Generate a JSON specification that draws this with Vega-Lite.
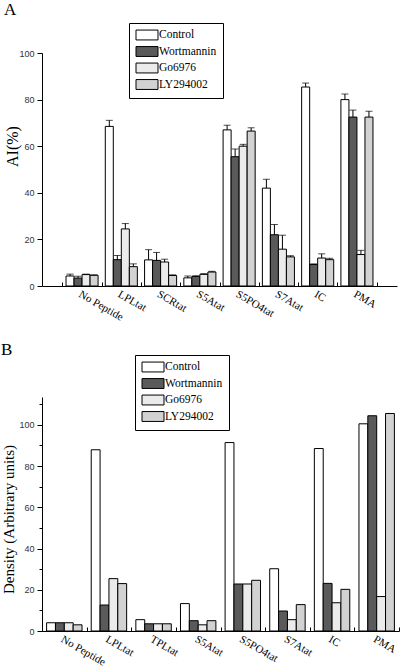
{
  "$schema": "https://vega.github.io/schema/vega-lite/v6.json",
  "padding": {"left": 1, "top": 0, "right": 0, "bottom": 0},
  "background": "white",
  "config": {
    "view": {"stroke": null},
    "axis": {"domainColor": "black", "tickColor": "black", "grid": false},
    "legend": {"strokeColor": "black", "fillColor": "white", "labelFont": "Liberation Serif", "labelColor": "black"}
  },
  "spacing": 17,
  "resolve": {
    "scale": {"x": "independent", "y": "independent", "fill": "independent", "xOffset": "independent"},
    "legend": {"fill": "independent"},
    "axis": {"x": "independent", "y": "independent"}
  },
  "vconcat": [
    {
      "title": {"text": "A", "anchor": "start", "font": "Liberation Serif", "fontSize": 17, "fontWeight": "normal", "offset": 4, "frame": "bounds"},
      "width": 355,
      "height": 233,
      "data": {
        "values": [
          {"peptide": "No Peptide", "treatment": "Control", "value": 4.3, "hi": 5.1},
          {"peptide": "No Peptide", "treatment": "Wortmannin", "value": 3.4, "hi": 4.2},
          {"peptide": "No Peptide", "treatment": "Go6976", "value": 4.9, "hi": 5.1},
          {"peptide": "No Peptide", "treatment": "LY294002", "value": 4.6, "hi": 4.8},
          {"peptide": "LPLtat", "treatment": "Control", "value": 68.5, "hi": 71.1},
          {"peptide": "LPLtat", "treatment": "Wortmannin", "value": 11.3, "hi": 13.1},
          {"peptide": "LPLtat", "treatment": "Go6976", "value": 24.5, "hi": 26.8},
          {"peptide": "LPLtat", "treatment": "LY294002", "value": 8.3, "hi": 9.5},
          {"peptide": "SCRtat", "treatment": "Control", "value": 11.2, "hi": 15.6},
          {"peptide": "SCRtat", "treatment": "Wortmannin", "value": 11.0, "hi": 14.4},
          {"peptide": "SCRtat", "treatment": "Go6976", "value": 10.3, "hi": 11.5},
          {"peptide": "SCRtat", "treatment": "LY294002", "value": 4.5, "hi": 4.8},
          {"peptide": "S5Atat", "treatment": "Control", "value": 3.5, "hi": 4.3},
          {"peptide": "S5Atat", "treatment": "Wortmannin", "value": 4.1, "hi": 4.4},
          {"peptide": "S5Atat", "treatment": "Go6976", "value": 5.0, "hi": 5.3},
          {"peptide": "S5Atat", "treatment": "LY294002", "value": 6.0, "hi": 6.3},
          {"peptide": "S5PO4tat", "treatment": "Control", "value": 67.0, "hi": 69.0},
          {"peptide": "S5PO4tat", "treatment": "Wortmannin", "value": 55.5, "hi": 58.8},
          {"peptide": "S5PO4tat", "treatment": "Go6976", "value": 60.0, "hi": 60.8},
          {"peptide": "S5PO4tat", "treatment": "LY294002", "value": 66.5, "hi": 67.9},
          {"peptide": "S7Atat", "treatment": "Control", "value": 42.0, "hi": 45.8},
          {"peptide": "S7Atat", "treatment": "Wortmannin", "value": 22.0, "hi": 26.4},
          {"peptide": "S7Atat", "treatment": "Go6976", "value": 15.8, "hi": 21.8},
          {"peptide": "S7Atat", "treatment": "LY294002", "value": 12.5, "hi": 13.0},
          {"peptide": "IC", "treatment": "Control", "value": 85.4, "hi": 87.1},
          {"peptide": "IC", "treatment": "Wortmannin", "value": 9.2, "hi": 9.5},
          {"peptide": "IC", "treatment": "Go6976", "value": 12.0, "hi": 13.8},
          {"peptide": "IC", "treatment": "LY294002", "value": 11.3, "hi": 11.9},
          {"peptide": "PMA", "treatment": "Control", "value": 80.0, "hi": 82.4},
          {"peptide": "PMA", "treatment": "Wortmannin", "value": 72.5, "hi": 75.5},
          {"peptide": "PMA", "treatment": "Go6976", "value": 13.5, "hi": 15.3},
          {"peptide": "PMA", "treatment": "LY294002", "value": 72.5, "hi": 75.0}
        ]
      },
      "encoding": {
        "x": {
          "field": "peptide", "type": "nominal",
          "scale": {"domain": ["No Peptide", "LPLtat", "SCRtat", "S5Atat", "S5PO4tat", "S7Atat", "IC", "PMA"], "paddingInner": 0, "paddingOuter": 0.52},
          "axis": {"title": null, "labelAngle": 30, "labelAlign": "left", "labelBaseline": "top", "tickBand": "extent", "tickSize": -4, "labelPadding": 6, "labelFont": "Liberation Serif", "labelFontSize": 11, "labelColor": "black"}
        },
        "xOffset": {
          "field": "treatment", "type": "nominal",
          "scale": {"domain": ["Control", "Wortmannin", "Go6976", "LY294002"], "paddingInner": 0, "paddingOuter": 0.45}
        }
      },
      "layer": [
        {
          "mark": {"type": "bar", "stroke": "black", "strokeWidth": 1},
          "encoding": {
            "y": {
              "field": "value", "type": "quantitative",
              "scale": {"domain": [0, 100], "nice": false},
              "axis": {
                "title": "AI(%)", "values": [0, 10, 20, 30, 40, 50, 60, 70, 80, 90, 100],
                "labelExpr": "datum.value % 20 === 0 ? datum.label : ''",
                "tickSize": {"condition": {"test": "datum.value % 20 !== 0", "value": 3}, "value": 5},
                "labelFont": "Liberation Sans", "labelFontSize": 9, "labelColor": "#333333", "labelPadding": 3,
                "titleFont": "Liberation Serif", "titleFontSize": 16, "titleFontWeight": "normal", "titleColor": "black",
                "titleX": -25, "titleY": 93, "titleBaseline": "alphabetic", "titleAngle": -90, "titleAlign": "center"
              }
            },
            "fill": {
              "field": "treatment", "type": "nominal",
              "scale": {"domain": ["Control", "Wortmannin", "Go6976", "LY294002"], "range": ["#ffffff", "#5a5a5a", "#ebebeb", "#d2d2d2"]},
              "legend": {
                "orient": "none", "legendX": 87, "legendY": -30, "title": null,
                "strokeColor": "black", "padding": 6,
                "symbolType": "M-2,-0.9H2V0.9H-2Z", "symbolSize": 121, "symbolOffset": 6,
                "symbolStrokeColor": "black", "symbolStrokeWidth": 1,
                "labelFont": "Liberation Serif", "labelFontSize": 11.5, "labelColor": "black",
                "rowPadding": 2.5, "labelOffset": 6
              }
            }
          }
        },
        {
          "mark": {"type": "rule", "color": "black", "strokeWidth": 1},
          "encoding": {
            "y": {"field": "value", "type": "quantitative"},
            "y2": {"field": "hi"}
          }
        },
        {
          "mark": {"type": "tick", "color": "black", "size": 7, "thickness": 1, "orient": "horizontal"},
          "encoding": {
            "y": {"field": "hi", "type": "quantitative"}
          }
        }
      ]
    },
    {
      "title": {"text": "B", "anchor": "start", "font": "Liberation Serif", "fontSize": 17, "fontWeight": "normal", "offset": -4, "frame": "bounds"},
      "width": 357,
      "height": 234,
      "data": {
        "values": [
          {"peptide": "No Peptide", "treatment": "Control", "value": 4.0},
          {"peptide": "No Peptide", "treatment": "Wortmannin", "value": 4.0},
          {"peptide": "No Peptide", "treatment": "Go6976", "value": 4.0},
          {"peptide": "No Peptide", "treatment": "LY294002", "value": 3.0},
          {"peptide": "LPLtat", "treatment": "Control", "value": 87.9},
          {"peptide": "LPLtat", "treatment": "Wortmannin", "value": 12.6},
          {"peptide": "LPLtat", "treatment": "Go6976", "value": 25.4},
          {"peptide": "LPLtat", "treatment": "LY294002", "value": 23.0},
          {"peptide": "TPLtat", "treatment": "Control", "value": 5.5},
          {"peptide": "TPLtat", "treatment": "Wortmannin", "value": 3.5},
          {"peptide": "TPLtat", "treatment": "Go6976", "value": 3.5},
          {"peptide": "TPLtat", "treatment": "LY294002", "value": 3.5},
          {"peptide": "S5Atat", "treatment": "Control", "value": 13.3},
          {"peptide": "S5Atat", "treatment": "Wortmannin", "value": 5.0},
          {"peptide": "S5Atat", "treatment": "Go6976", "value": 3.0},
          {"peptide": "S5Atat", "treatment": "LY294002", "value": 5.0},
          {"peptide": "S5PO4tat", "treatment": "Control", "value": 91.4},
          {"peptide": "S5PO4tat", "treatment": "Wortmannin", "value": 22.8},
          {"peptide": "S5PO4tat", "treatment": "Go6976", "value": 22.8},
          {"peptide": "S5PO4tat", "treatment": "LY294002", "value": 24.6},
          {"peptide": "S7Atat", "treatment": "Control", "value": 30.2},
          {"peptide": "S7Atat", "treatment": "Wortmannin", "value": 9.7},
          {"peptide": "S7Atat", "treatment": "Go6976", "value": 5.5},
          {"peptide": "S7Atat", "treatment": "LY294002", "value": 12.8},
          {"peptide": "IC", "treatment": "Control", "value": 88.5},
          {"peptide": "IC", "treatment": "Wortmannin", "value": 23.1},
          {"peptide": "IC", "treatment": "Go6976", "value": 13.7},
          {"peptide": "IC", "treatment": "LY294002", "value": 20.2},
          {"peptide": "PMA", "treatment": "Control", "value": 100.5},
          {"peptide": "PMA", "treatment": "Wortmannin", "value": 104.4},
          {"peptide": "PMA", "treatment": "Go6976", "value": 16.7},
          {"peptide": "PMA", "treatment": "LY294002", "value": 105.5}
        ]
      },
      "mark": {"type": "bar", "stroke": "black", "strokeWidth": 1},
      "encoding": {
        "x": {
          "field": "peptide", "type": "nominal",
          "scale": {"domain": ["No Peptide", "LPLtat", "TPLtat", "S5Atat", "S5PO4tat", "S7Atat", "IC", "PMA"], "paddingInner": 0, "paddingOuter": 0},
          "axis": {"title": null, "labelAngle": 30, "labelAlign": "left", "labelBaseline": "top", "tickBand": "extent", "tickSize": -4, "labelPadding": 6, "labelFont": "Liberation Serif", "labelFontSize": 11, "labelColor": "black"}
        },
        "xOffset": {
          "field": "treatment", "type": "nominal",
          "scale": {"domain": ["Control", "Wortmannin", "Go6976", "LY294002"], "paddingInner": 0, "paddingOuter": 0.52}
        },
        "y": {
          "field": "value", "type": "quantitative",
          "scale": {"domain": [0, 113.5], "nice": false},
          "axis": {
            "title": "Density (Arbitrary units)", "values": [0, 10, 20, 30, 40, 50, 60, 70, 80, 90, 100, 110],
            "labelExpr": "datum.value % 20 === 0 ? datum.label : ''",
            "tickSize": {"condition": {"test": "datum.value % 20 !== 0", "value": 3}, "value": 5},
            "labelFont": "Liberation Sans", "labelFontSize": 9, "labelColor": "#333333", "labelPadding": 3,
            "titleFont": "Liberation Serif", "titleFontSize": 15, "titleFontWeight": "normal", "titleColor": "black",
            "titleX": -29, "titleY": 122, "titleBaseline": "alphabetic", "titleAngle": -90, "titleAlign": "center"
          }
        },
        "fill": {
          "field": "treatment", "type": "nominal",
          "scale": {"domain": ["Control", "Wortmannin", "Go6976", "LY294002"], "range": ["#ffffff", "#5a5a5a", "#ebebeb", "#d2d2d2"]},
          "legend": {
            "orient": "none", "legendX": 93, "legendY": -42, "title": null,
            "strokeColor": "black", "padding": 6,
            "symbolType": "M-2,-0.9H2V0.9H-2Z", "symbolSize": 121, "symbolOffset": 6,
            "symbolStrokeColor": "black", "symbolStrokeWidth": 1,
            "labelFont": "Liberation Serif", "labelFontSize": 11.5, "labelColor": "black",
            "rowPadding": 2.5, "labelOffset": 6
          }
        }
      }
    }
  ]
}
